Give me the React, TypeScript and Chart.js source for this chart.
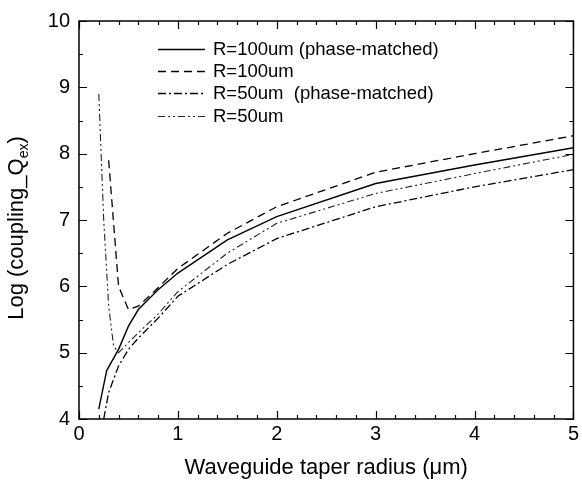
import React, { useEffect, useRef } from "react";
import { Chart, registerables } from "chart.js";
Chart.register(...registerables);

const FONT = "'Liberation Sans', Arial, Helvetica, sans-serif";

// Series (x = taper radius in um, y = log coupling Q)
const solidX = [0.2, 0.28, 0.4, 0.5, 0.6, 0.8, 1, 1.5, 2, 3, 4, 5];
const solidY = [4.15, 4.73, 5.05, 5.4, 5.65, 5.95, 6.2, 6.7, 7.05, 7.55, 7.83, 8.09];

const dashedX = [0.3, 0.4, 0.5, 0.6, 0.8, 1, 1.5, 2, 3, 4, 5];
const dashedY = [7.9, 6.0, 5.65, 5.7, 5.98, 6.27, 6.8, 7.2, 7.72, 8.0, 8.27];

const dashDotX = [0.25, 0.3, 0.4, 0.5, 0.6, 0.8, 1, 1.5, 2, 3, 4, 5];
const dashDotY = [4.0, 4.4, 4.8, 5.05, 5.22, 5.52, 5.85, 6.33, 6.72, 7.2, 7.5, 7.76];

const dashDotDotX = [0.2, 0.25, 0.3, 0.35, 0.4, 0.5, 0.6, 0.8, 1, 1.5, 2, 3, 4, 5];
const dashDotDotY = [8.9, 7.0, 5.7, 5.1, 5.0, 5.15, 5.3, 5.58, 5.92, 6.5, 6.95, 7.4, 7.7, 7.99];

const seriesLabels = [
  "R=100um (phase-matched)",
  "R=100um",
  "R=50um  (phase-matched)",
  "R=50um",
];

const xTicks = [0, 1, 2, 3, 4, 5];
const yTicks = [4, 5, 6, 7, 8, 9, 10];

const xTitle = "Waveguide taper radius (\u03bcm)";
const yTitleMain = "Log (coupling_Q";
const yTitleSub = "ex";
const yTitleEnd = ")";

const toPts = (xs: number[], ys: number[]) => xs.map((x, i) => ({ x, y: ys[i] }));

const decorPlugin = {
  id: "decor",
  afterDraw(chart: any) {
    const { ctx, chartArea: a, scales } = chart;
    const xs = scales.x;
    const ys = scales.y;
    ctx.save();
    ctx.strokeStyle = "#000";
    ctx.lineWidth = 1.5;
    ctx.setLineDash([]);
    ctx.strokeRect(a.left, a.top, a.right - a.left, a.bottom - a.top);
    ctx.lineWidth = 1.2;
    for (let i = 0; i <= 25; i++) {
      const v = i * 0.2;
      const px = Math.round(xs.getPixelForValue(v)) + 0.5;
      const len = i % 5 === 0 ? 8 : 4;
      ctx.beginPath();
      ctx.moveTo(px, a.bottom);
      ctx.lineTo(px, a.bottom - len);
      ctx.moveTo(px, a.top);
      ctx.lineTo(px, a.top + len);
      ctx.stroke();
    }
    for (let i = 0; i <= 12; i++) {
      const v = 4 + i * 0.5;
      const py = Math.round(ys.getPixelForValue(v)) + 0.5;
      const len = i % 2 === 0 ? 8 : 4;
      ctx.beginPath();
      ctx.moveTo(a.left, py);
      ctx.lineTo(a.left + len, py);
      ctx.moveTo(a.right, py);
      ctx.lineTo(a.right - len, py);
      ctx.stroke();
    }
    // legend
    const ds = chart.data.datasets;
    ctx.font = `18.5px ${FONT}`;
    ctx.textBaseline = "middle";
    ctx.textAlign = "left";
    ctx.fillStyle = "#000";
    const rows = [49, 71, 93, 116];
    ds.forEach((d: any, i: number) => {
      const y = rows[i] + 0.5;
      ctx.save();
      ctx.strokeStyle = d.borderColor;
      ctx.lineWidth = d.borderWidth;
      ctx.setLineDash(d.borderDash || []);
      ctx.beginPath();
      ctx.moveTo(158, y);
      ctx.lineTo(205, y);
      ctx.stroke();
      ctx.restore();
      ctx.fillText(d.label, 213, rows[i] + 1);
    });
    // x title
    ctx.font = `22px ${FONT}`;
    ctx.textAlign = "center";
    ctx.textBaseline = "middle";
    ctx.fillText(xTitle, (a.left + a.right) / 2, 468);
    // y title with subscript
    ctx.save();
    ctx.translate(23, 228);
    ctx.rotate(-Math.PI / 2);
    ctx.textBaseline = "alphabetic";
    ctx.textAlign = "left";
    const mainFont = `22px ${FONT}`;
    const subFont = `14px ${FONT}`;
    ctx.font = mainFont;
    const w1 = ctx.measureText(yTitleMain).width;
    ctx.font = subFont;
    const w2 = ctx.measureText(yTitleSub).width;
    ctx.font = mainFont;
    const w3 = ctx.measureText(yTitleEnd).width;
    const total = w1 + w2 + w3;
    let x0 = -total / 2;
    ctx.fillText(yTitleMain, x0, 0);
    x0 += w1;
    ctx.font = subFont;
    ctx.fillText(yTitleSub, x0, 5);
    x0 += w2;
    ctx.font = mainFont;
    ctx.fillText(yTitleEnd, x0, 0);
    ctx.restore();
    ctx.restore();
  },
};

export default function App() {
  const ref = useRef<HTMLCanvasElement | null>(null);
  useEffect(() => {
    if (!ref.current) return;
    const mk = (i: number, xs: number[], ys: number[], dash: number[], color: string, w: number) => ({
      label: seriesLabels[i],
      data: toPts(xs, ys),
      borderColor: color,
      borderWidth: w,
      borderDash: dash,
      pointRadius: 0,
      fill: false,
      tension: 0,
    });
    const chart = new Chart(ref.current, {
      type: "line",
      data: {
        datasets: [
          mk(0, solidX, solidY, [], "#000", 1.4),
          mk(1, dashedX, dashedY, [8, 5], "#000", 1.3),
          mk(2, dashDotX, dashDotY, [8, 3, 2, 3], "#000", 1.3),
          mk(3, dashDotDotX, dashDotDotY, [7, 3, 2, 3, 2, 3], "#222", 1.1),
        ],
      },
      options: {
        animation: false,
        responsive: false,
        events: [],
        layout: { padding: { top: 16, right: 5, left: 0, bottom: 0 } },
        plugins: { legend: { display: false }, tooltip: { enabled: false } },
        scales: {
          x: {
            type: "linear",
            min: 0,
            max: 5,
            afterFit: (s: any) => { s.height = 65; },
            afterBuildTicks: (s: any) => { s.ticks = xTicks.map((v) => ({ value: v })); },
            grid: { display: false, drawTicks: false },
            border: { display: false },
            ticks: { color: "#000", padding: 3, font: { family: FONT, size: 20 }, maxRotation: 0 },
          },
          y: {
            type: "linear",
            min: 4,
            max: 10,
            afterFit: (s: any) => { s.width = 79; },
            afterBuildTicks: (s: any) => { s.ticks = yTicks.map((v) => ({ value: v })); },
            grid: { display: false, drawTicks: false },
            border: { display: false },
            ticks: { color: "#000", padding: 9, font: { family: FONT, size: 20 } },
          },
        },
      },
      plugins: [decorPlugin],
    });
    return () => chart.destroy();
  }, []);
  return (
    <div style={{ position: "fixed", left: 0, top: 0, width: 582, height: 484, background: "#fff" }}>
      <canvas ref={ref} width={582} height={484} style={{ width: 582, height: 484 }} />
    </div>
  );
}
